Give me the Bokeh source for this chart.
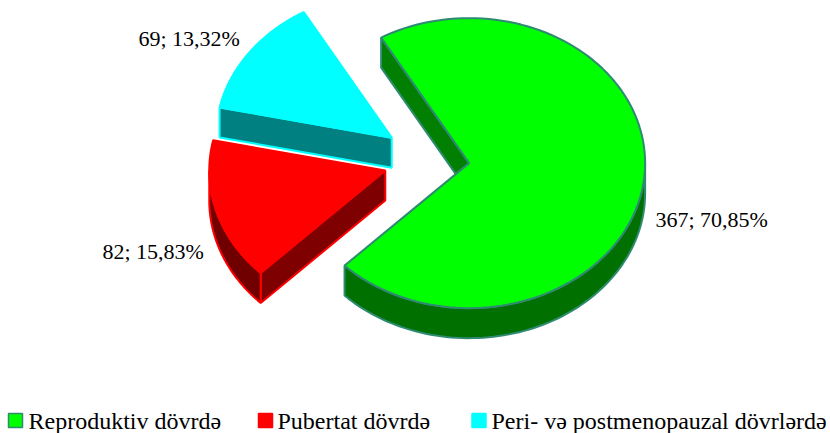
import numpy as np
from bokeh.plotting import figure
from bokeh.models import Range1d
from bokeh.core.properties import value
from bokeh.embed import file_html
from bokeh.resources import INLINE

# --- data ---
categories = ["Reproduktiv dövrdə", "Pubertat dövrdə", "Peri- və postmenopauzal dövrlərdə"]
counts = [367, 82, 69]

# --- style / layout ---
top_colors = ["#00FF00", "#FF0000", "#00FFFF"]
face_colors = ["#007F00", "#7F0000", "#008080"]
wall_colors = ["#007000", "#700000", "#007070"]
edge_colors = ["#2E8B72", "#FF0000", "#00FFFF"]
W, H = 830, 433
CX, CY, RX, RY, DEPTH, EXPLODE = 426.0, 158.0, 176.0, 145.0, 30.0, 43.0
SLICE_NUDGE_Y = [0.0, 2.0, 0.0]
START_DEG = -30.0
LABEL_POS = [(655, 219), (102, 251), (138, 38)]
LEGEND_SWATCH_X = [15, 265, 478.5]
LEGEND_TEXT_X = [28, 277, 491]
LEGEND_Y = 420
FONT = value("Liberation Serif")

p = figure(width=W, height=H, output_backend="svg", toolbar_location=None,
           x_range=Range1d(0, W), y_range=Range1d(H, 0),
           x_axis_type=None, y_axis_type=None, min_border=0,
           outline_line_color=None)
p.grid.visible = False
p.styles = {"position": "absolute", "left": "0px", "top": "0px"}

total = sum(counts)
spans = [c / total * 360.0 for c in counts]
starts = START_DEG + np.concatenate([[0.0], np.cumsum(spans)[:-1]])


def pt(ax, ay, deg):
    a = np.radians(deg)
    return ax + RX * np.sin(a), ay - RY * np.cos(a)


faces, walls, tops = [], [], []
for i, (s, sp) in enumerate(zip(starts, spans)):
    e = s + sp
    mid = np.radians((s + e) / 2)
    ax = CX + EXPLODE * np.sin(mid)
    ay = CY - EXPLODE * RY / RX * np.cos(mid) + SLICE_NUDGE_Y[i]
    th = np.linspace(s, e, 120)
    xs, ys = pt(ax, ay, th)
    tops.append((list(np.r_[ax, xs]), list(np.r_[ay, ys])))
    # cut face on the slice's starting edge
    x0, y0 = pt(ax, ay, s)
    faces.append(([ax, x0, x0, ax], [ay, y0, y0 + DEPTH, ay + DEPTH]))
    # outer wall: only the near half of the ellipse shows
    lo, hi = max(s, 90.0), min(e, 270.0)
    if hi > lo:
        t2 = np.linspace(lo, hi, 80)
        wx, wy = pt(ax, ay, t2)
        walls.append((list(np.r_[wx, wx[::-1]]), list(np.r_[wy, (wy + DEPTH)[::-1]]), i))

for i in range(len(counts) - 1, -1, -1):
    p.patch(faces[i][0], faces[i][1], fill_color=face_colors[i],
            line_color=edge_colors[i], line_width=2)
    for wx, wy, j in walls:
        if j == i:
            p.patch(wx, wy, fill_color=wall_colors[i], line_color=edge_colors[i], line_width=2)
    p.patch(tops[i][0], tops[i][1], fill_color=top_colors[i],
            line_color=edge_colors[i], line_width=2)

labels = [f"{c}; {c / total * 100:.2f}%".replace(".", ",") for c in counts]
p.text([q[0] for q in LABEL_POS], [q[1] for q in LABEL_POS], text=labels,
       text_font=FONT, text_font_size="22px", text_color="#000000",
       text_align="left", text_baseline="middle")

p.scatter(LEGEND_SWATCH_X, [LEGEND_Y] * 3, marker="square", size=14,
          fill_color=top_colors, line_color=["#2E8B72", "#FF0000", "#00FFFF"], line_width=1.5)
p.text(LEGEND_TEXT_X, [LEGEND_Y] * 3, text=categories,
       text_font=FONT, text_font_size="24px", text_color="#000000",
       text_align="left", text_baseline="middle")

open("out.html", "w").write(file_html(p, INLINE))
